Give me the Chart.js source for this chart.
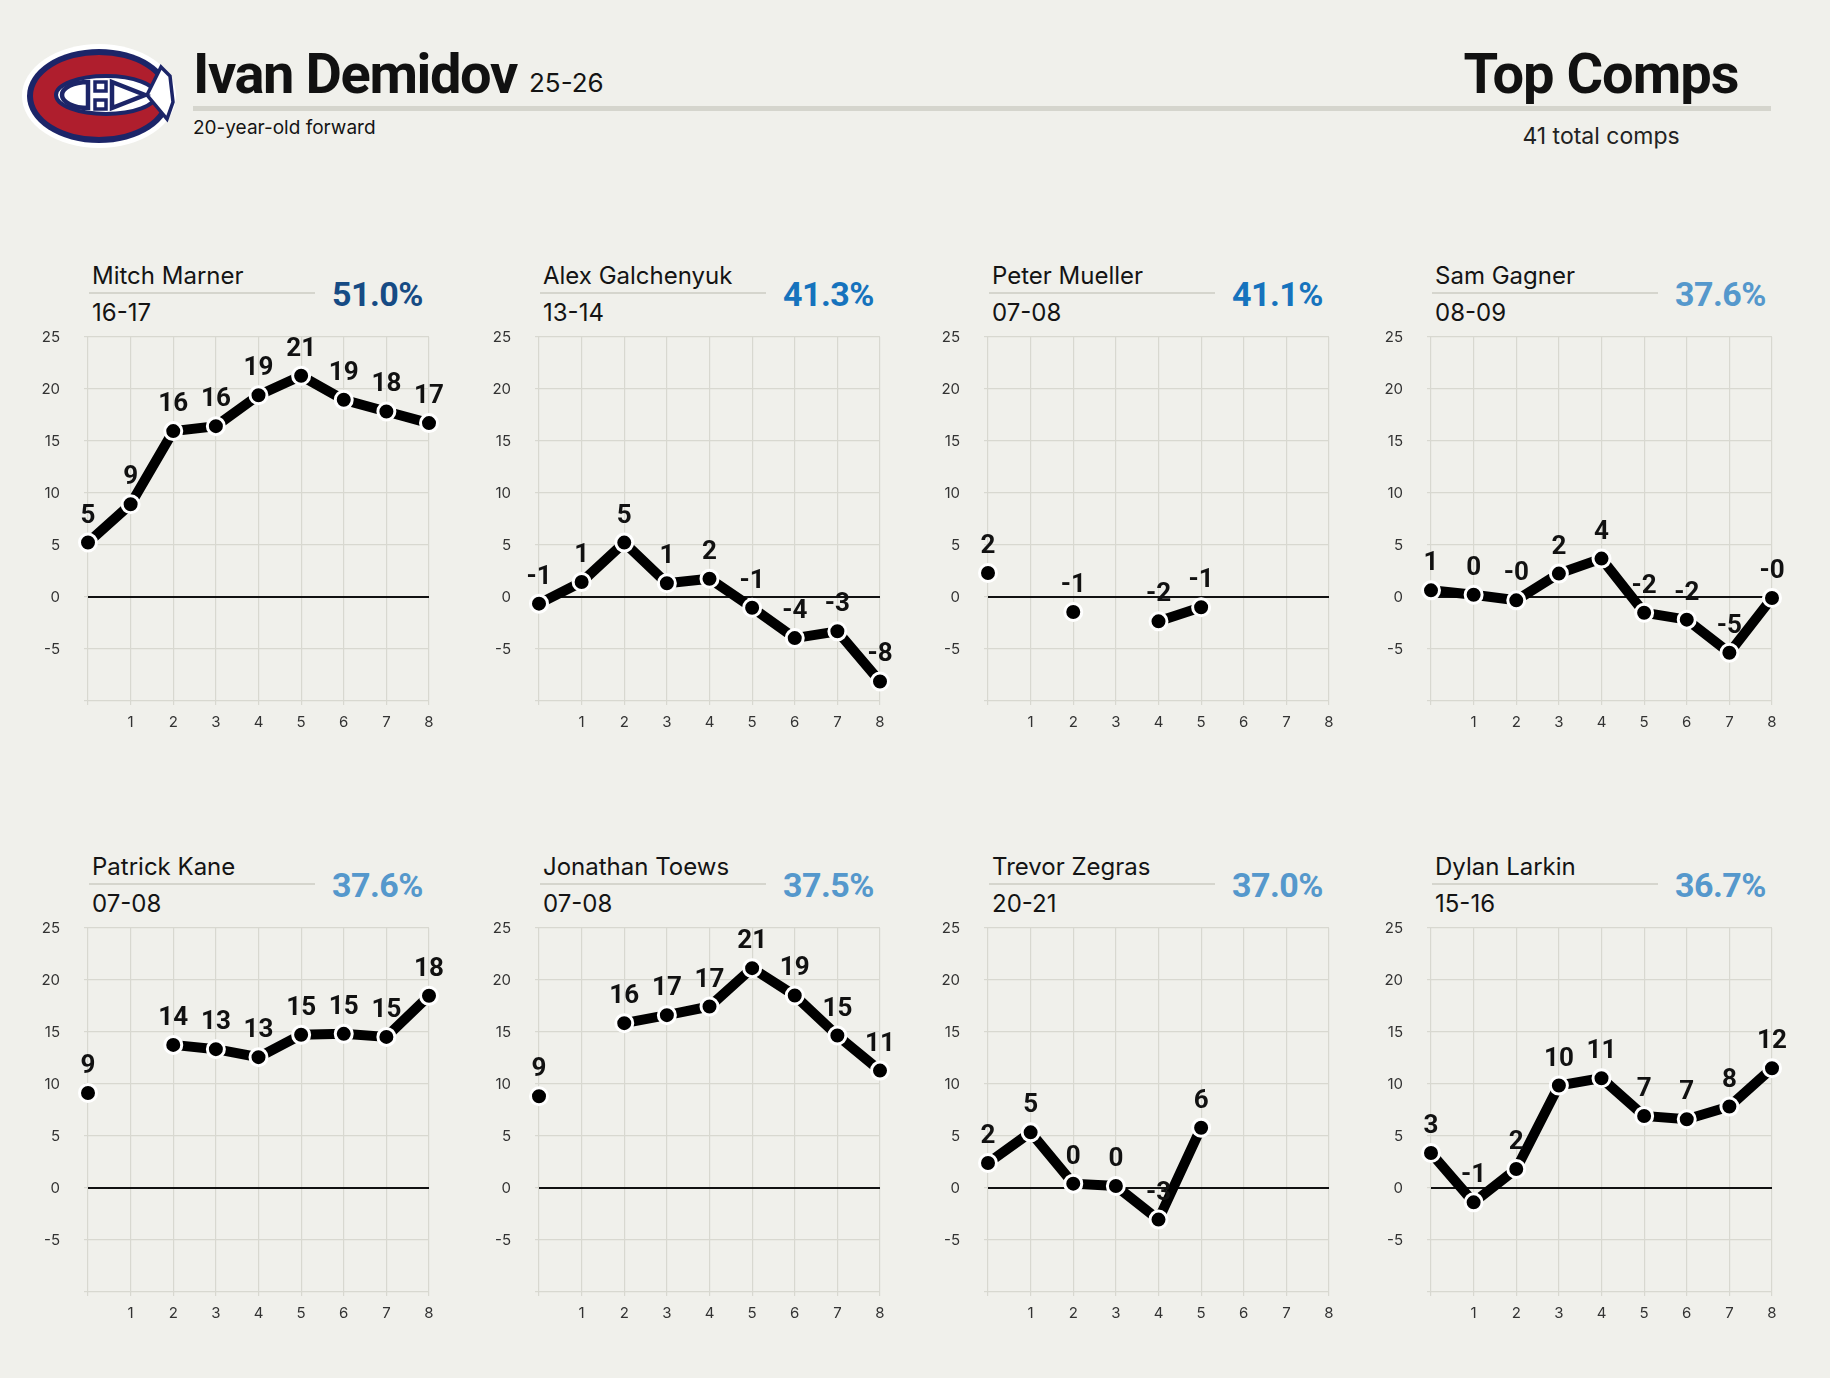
<!DOCTYPE html>
<html>
<head>
<meta charset="utf-8">
<script src="https://cdn.jsdelivr.net/npm/chart.js@4.4.1/dist/chart.umd.min.js"></script>
<style>
  html, body { margin: 0; padding: 0; background: #f0f0eb; }
  #page { position: relative; width: 1830px; height: 1378px; overflow: hidden; font-family: 'Inter', 'Roboto', sans-serif; color: #141414; }
  .t { position: absolute; white-space: nowrap; line-height: 1; }
  .b { font-family: 'Roboto', 'Inter', sans-serif; }
  .box { position: absolute; }
  .rule { position: absolute; background: #d5d5cd; }
</style>
</head>
<body>
<div id="page">
  <svg class="box" style="left:20px;top:42px" width="160" height="110" viewBox="0 0 160 110">
    <ellipse cx="79" cy="54" rx="77" ry="52" fill="#fff"/>
    <ellipse cx="79" cy="54" rx="72" ry="47" fill="#1c2568"/>
    <ellipse cx="79" cy="54" rx="66" ry="41" fill="#af1e2d"/>
    <ellipse cx="86" cy="53" rx="50" ry="19" fill="#fff" stroke="#1c2568" stroke-width="4"/>
    <polygon points="127,53 141,25 150,34 153,60 147,77" fill="#fff" stroke="#1c2568" stroke-width="3.5"/>
    <path d="M 68 40 A 26 13 0 0 0 68 66 Z" fill="#fff" stroke="#1c2568" stroke-width="4.5"/>
    <rect x="75" y="40" width="11" height="9" fill="#fff" stroke="#1c2568" stroke-width="3.5"/>
    <rect x="75" y="58" width="11" height="9" fill="#fff" stroke="#1c2568" stroke-width="3.5"/>
    <polygon points="92,40 92,66 125,53" fill="#fff" stroke="#1c2568" stroke-width="4.5"/>
  </svg>
</div>
<script>
// ---- data ----
const playerName = 'Ivan Demidov';
const playerSeason = '25-26';
const playerInfo = '20-year-old forward';
const compsTitle = 'Top Comps';
const compsCount = '41 total comps';

const compNames = ['Mitch Marner', 'Alex Galchenyuk', 'Peter Mueller', 'Sam Gagner',
                   'Patrick Kane', 'Jonathan Toews', 'Trevor Zegras', 'Dylan Larkin'];
const compSeasons = ['16-17', '13-14', '07-08', '08-09', '07-08', '07-08', '20-21', '15-16'];
const similarity = [51.0, 41.3, 41.1, 37.6, 37.6, 37.5, 37.0, 36.7];

const years = [0, 1, 2, 3, 4, 5, 6, 7, 8];
const yTickValues = [-10, -5, 0, 5, 10, 15, 20, 25];

const marner     = [5.24, 8.92, 15.95, 16.43, 19.4, 21.27, 18.96, 17.84, 16.72];
const galchenyuk = [-0.64, 1.44, 5.23, 1.32, 1.76, -1.03, -3.95, -3.3, -8.12];
const mueller    = [2.31, null, -1.44, null, -2.34, -0.99, null, null, null];
const gagner     = [0.64, 0.22, -0.32, 2.25, 3.69, -1.51, -2.18, -5.36, -0.1];
const kane       = [9.14, null, 13.76, 13.35, 12.58, 14.73, 14.82, 14.53, 18.48];
const toews      = [8.82, null, 15.85, 16.62, 17.45, 21.14, 18.51, 14.66, 11.29];
const zegras     = [2.4, 5.35, 0.42, 0.19, -3.04, 5.8, null, null, null];
const larkin     = [3.37, -1.38, 1.83, 9.85, 10.56, 6.93, 6.61, 7.83, 11.52];

const series = [marner, galchenyuk, mueller, gagner, kane, toews, zegras, larkin];

// ---- layout ----
const page = document.getElementById('page');
const COL_LEFT = [88, 539, 988, 1431];
const ROW_TOP = [337, 928];
const PLOT_W = 341, PLOT_H = 364;
const PAD_L = 60, PAD_T = 25, PAD_R = 25, PAD_B = 40;
const GRID = '#d8d8d0';

function addText(txt, x, baseline, size, weight, color, align, cls) {
  const d = document.createElement('div');
  d.className = 't' + (cls ? ' ' + cls : '');
  d.textContent = txt;
  d.style.fontSize = size + 'px';
  d.style.fontWeight = weight;
  d.style.color = color || '#141414';
  // Roboto and Inter put the baseline at roughly the same spot with line-height 1
  d.style.top = (baseline - (cls === 'b' ? 0.84 : 0.864) * size) + 'px';
  if (align === 'right') {
    d.style.right = (1830 - x) + 'px';
  } else if (align === 'center') {
    d.style.left = (x - 300) + 'px';
    d.style.width = '600px';
    d.style.textAlign = 'center';
  } else {
    d.style.left = x + 'px';
  }
  page.appendChild(d);
  return d;
}

function addRule(x, y, w, h) {
  const r = document.createElement('div');
  r.className = 'rule';
  r.style.left = x + 'px'; r.style.top = y + 'px';
  r.style.width = w + 'px'; r.style.height = h + 'px';
  page.appendChild(r);
}

function pctColor(v) {
  if (v >= 45) return '#164b84';
  if (v >= 40) return '#1673bd';
  return '#5598cc';
}

// header
addText(playerName, 193, 93, 56, 700, '#111', null, 'b').style.letterSpacing = '-1.4px';
addText(playerSeason, 529, 92, 26, 400);
addRule(193, 106, 1578, 5);
addText(playerInfo, 193, 134, 19, 400);
addText(compsTitle, 1601, 93, 56, 700, '#111', 'center', 'b').style.letterSpacing = '-1px';
addText(compsCount, 1601, 145, 23, 400, '#222', 'center');

const zeroLine = {
  id: 'zeroLine',
  beforeDatasetsDraw(chart) {
    const { ctx, chartArea, scales } = chart;
    const y = scales.y.getPixelForValue(0);
    ctx.save();
    ctx.strokeStyle = '#111';
    ctx.lineWidth = 2.2;
    ctx.beginPath();
    ctx.moveTo(chartArea.left, y);
    ctx.lineTo(chartArea.right, y);
    ctx.stroke();
    ctx.restore();
  }
};

const pointLabels = {
  id: 'pointLabels',
  afterDatasetsDraw(chart) {
    const { ctx } = chart;
    const ds = chart.data.datasets[0];
    const meta = chart.getDatasetMeta(0);
    ctx.save();
    ctx.font = "700 26px 'Roboto', 'Inter', sans-serif";
    ctx.fillStyle = '#111';
    ctx.textAlign = 'center';
    ctx.textBaseline = 'alphabetic';
    meta.data.forEach((pt, i) => {
      const v = ds.data[i];
      if (v === null || v === undefined) return;
      ctx.fillText(v.toFixed(0), pt.x, pt.y - 20);
    });
    ctx.restore();
  }
};

series.forEach((values, i) => {
  const L = COL_LEFT[i % 4];
  const T = ROW_TOP[Math.floor(i / 4)];

  addText(compNames[i], L + 4, T - 52, 24, 400);
  addRule(L + 1, T - 45, 226, 2);
  addText(compSeasons[i], L + 4, T - 15, 24, 400);
  addText(similarity[i].toFixed(1) + '%', L + 335, T - 31, 34, 700, pctColor(similarity[i]), 'right', 'b')
    .style.letterSpacing = '-0.5px';

  const wrap = document.createElement('div');
  wrap.className = 'box';
  wrap.style.left = (L - PAD_L) + 'px';
  wrap.style.top = (T - PAD_T) + 'px';
  wrap.style.width = (PAD_L + PLOT_W + PAD_R) + 'px';
  wrap.style.height = (PAD_T + PLOT_H + PAD_B) + 'px';
  const cv = document.createElement('canvas');
  wrap.appendChild(cv);
  page.appendChild(wrap);

  new Chart(cv, {
    type: 'line',
    data: {
      labels: years,
      datasets: [{
        data: values,
        borderColor: '#000',
        borderWidth: 10,
        pointRadius: 8.5,
        pointBorderWidth: 3,
        pointBackgroundColor: '#000',
        pointBorderColor: '#fff',
        tension: 0,
        spanGaps: false,
        clip: false
      }]
    },
    options: {
      responsive: true,
      maintainAspectRatio: false,
      animation: false,
      events: [],
      layout: { padding: { top: PAD_T, right: PAD_R, left: 0, bottom: 0 } },
      scales: {
        x: {
          type: 'category',
          offset: false,
          border: { display: false },
          grid: { color: GRID, lineWidth: 1.2, tickLength: 4 },
          ticks: {
            autoSkip: false, maxRotation: 0, padding: 8,
            color: '#333', font: { family: 'Inter', size: 15 },
            callback: (v, idx) => (years[idx] === 0 ? '' : String(years[idx]))
          },
          afterFit: s => { s.height = PAD_B; s.paddingLeft = 0; s.paddingRight = 0; }
        },
        y: {
          min: yTickValues[0],
          max: yTickValues[yTickValues.length - 1],
          border: { display: false },
          grid: { color: GRID, lineWidth: 1.2, tickLength: 4 },
          ticks: {
            stepSize: 5, padding: 24,
            color: '#333', font: { family: 'Inter', size: 15 },
            callback: v => (v === yTickValues[0] ? '' : v)
          },
          afterFit: s => { s.width = PAD_L; s.paddingTop = 0; s.paddingBottom = 0; }
        }
      },
      plugins: {
        legend: { display: false },
        tooltip: { enabled: false }
      }
    },
    plugins: [zeroLine, pointLabels]
  });
});
</script>
</body>
</html>
